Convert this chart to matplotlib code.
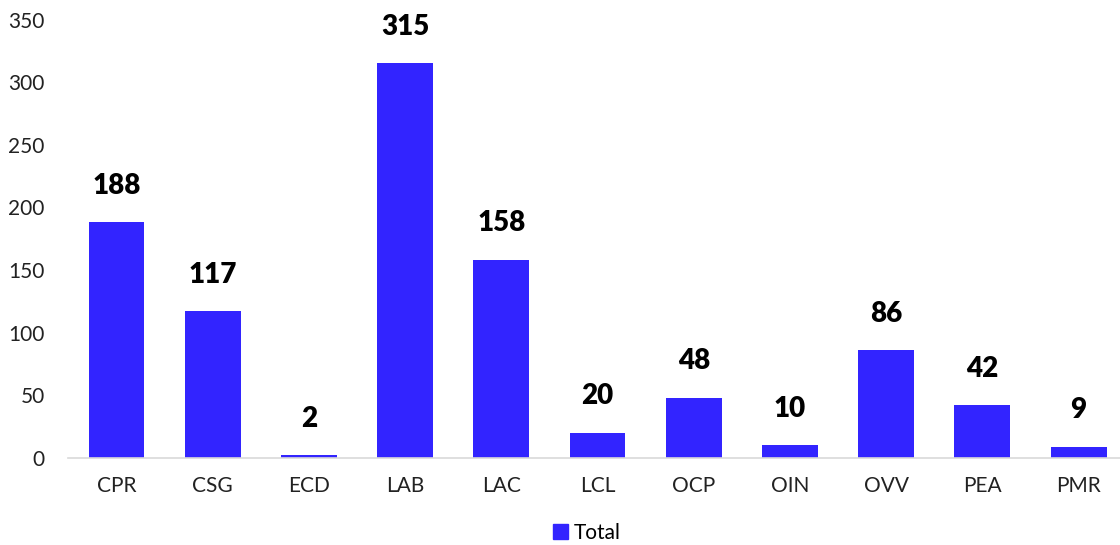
import matplotlib

matplotlib.use("Agg")
import matplotlib.pyplot as plt
from matplotlib.patches import Patch

# datos del gráfico
categorias = ["CPR", "CSG", "ECD", "LAB", "LAC", "LCL", "OCP", "OIN", "OVV", "PEA", "PMR"]
totales = [188, 117, 2, 315, 158, 20, 48, 10, 86, 42, 9]
ticks_y = [0, 50, 100, 150, 200, 250, 300, 350]

AZUL = "#3224FF"
plt.rcParams["font.family"] = ["Lato", "DejaVu Sans"]

fig = plt.figure(figsize=(11.2, 5.45), dpi=100)
ax = fig.add_axes([0.061, 0.16, 0.945, 0.804])

x = range(len(categorias))
ax.bar(x, totales, width=0.58, color=AZUL, label="Total")

for xi, v in zip(x, totales):
    ax.annotate(f"{v}", (xi, v), xytext=(0, 17), textcoords="offset points",
                ha="center", va="bottom", fontsize=20, fontweight="heavy",
                color="black")

ax.set_xlim(-0.5, len(categorias) - 0.5)
ax.set_ylim(0, 350)
ax.set_yticks(ticks_y)
ax.set_xticks(list(x))
ax.set_xticklabels(categorias)
ax.tick_params(axis="both", length=0, labelsize=15, colors="#222222")
ax.tick_params(axis="x", pad=13)
ax.tick_params(axis="y", pad=17)

for s in ["top", "right", "left"]:
    ax.spines[s].set_visible(False)
ax.spines["bottom"].set_color("#d9d9d9")
ax.spines["bottom"].set_linewidth(1.2)

fig.legend(handles=[Patch(color=AZUL, label="Total")], loc="center",
           bbox_to_anchor=(0.524, 0.022), frameon=False, fontsize=15,
           handlelength=0.7, handleheight=0.7, handletextpad=0.25)

fig.savefig("out.png", dpi=100)
